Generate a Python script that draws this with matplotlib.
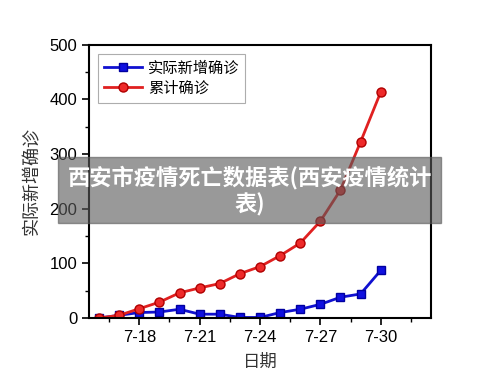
import numpy as np
import matplotlib.pyplot as plt
from matplotlib.patches import Rectangle
from matplotlib.ticker import MultipleLocator

plt.rcParams['font.family'] = ['Liberation Sans', 'Noto Sans CJK SC', 'DejaVu Sans']

days = np.arange(16, 31)
new_cases = [0, 5, 10, 11, 16, 7, 7, 1, 1, 10, 16, 25, 38, 44, 87]
total_cases = [0, 5, 17, 29, 46, 55, 63, 81, 94, 114, 137, 177, 234, 322, 413]
tick_days = [18, 21, 24, 27, 30]
tick_labels = ['7-18', '7-21', '7-24', '7-27', '7-30']

fig = plt.figure(figsize=(5, 3.82), dpi=100)
ax = fig.add_axes([0.178, 0.1675, 0.684, 0.716])

ax.plot(days, new_cases, '-s', color='#1010d0', lw=2, ms=5.5, mfc='#1010e0', mec='#0000a0', label='实际新增确诊')
ax.plot(days, total_cases, '-o', color='#e02020', lw=2, ms=6.5, mfc='#ee2a2a', mec='#b00000', label='累计确诊')

ax.set_xlim(15.5, 32.5)
ax.set_ylim(0, 500)
ax.set_xticks(tick_days)
ax.set_xticklabels(tick_labels)
ax.xaxis.set_minor_locator(MultipleLocator(1.5))
ax.yaxis.set_major_locator(MultipleLocator(100))
ax.yaxis.set_minor_locator(MultipleLocator(50))
ax.tick_params(axis='both', which='major', direction='out', length=5, width=1.2, labelsize=12)
ax.tick_params(axis='both', which='minor', direction='out', length=3, width=1)
for s in ax.spines.values():
    s.set_linewidth(1.5)

ax.set_ylabel('实际新增确诊', fontsize=13, family=['Noto Sans CJK SC'], color='#333333', labelpad=6)
ax.set_xlabel('日期', fontsize=12.5, family=['Noto Sans CJK SC'], color='#333333', labelpad=6)

leg = ax.legend(loc='upper left', prop={'family': 'Noto Sans CJK SC', 'size': 11},
                frameon=True, fancybox=False, edgecolor='#999999', handlelength=2.5,
                handletextpad=0.35, borderaxespad=0.6, labelspacing=0.2, borderpad=0.4)
leg.get_frame().set_linewidth(0.8)

# grey banner over the chart
fig.patches.append(Rectangle((58 / 500, 1 - 223 / 382), 383 / 500, 66 / 382,
                             transform=fig.transFigure, color='#5a5a5a', alpha=0.62, zorder=10))
fig.text(0.5, 1 - 191 / 382, '西安市疫情死亡数据表(西安疫情统计\n表)', ha='center', va='center',
         color='white', fontsize=16, fontweight='bold', family=['Noto Sans CJK SC', 'DejaVu Sans'],
         linespacing=1.15, zorder=11)

fig.savefig('out.png', dpi=100)
